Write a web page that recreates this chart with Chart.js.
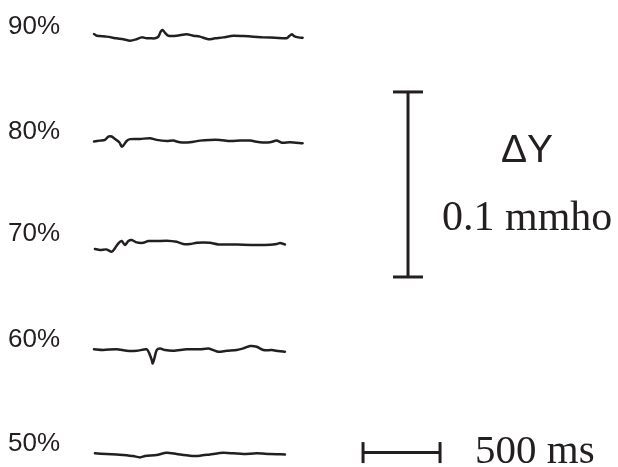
<!DOCTYPE html>
<html><head><meta charset="utf-8">
<script src="https://cdn.jsdelivr.net/npm/chart.js@4.4.1/dist/chart.umd.min.js"></script>
<style>html,body{margin:0;padding:0;background:#fff;overflow:hidden}canvas{display:block}</style>
</head><body><canvas id="c" width="618" height="467"></canvas>
<script>
// Trace labels (relative humidity levels)
const levelLabels = ['90%', '80%', '70%', '60%', '50%'];

// Time (ms) and admittance change (µmho) for each trace
const t90 = [0,18,82,147,190,234,277,310,342,364,396,418,433,446,461,483,537,602,645,688,742,786,840,905,970,1035,1099,1175,1251,1268,1284,1299,1327,1355];
const y90 = [1.6,0.7,0.2,-0.7,-1.2,-2.0,-1.2,-0.2,-0.7,-0.7,-0.7,0.2,2.9,3.8,2.3,0.7,0.7,1.5,0.7,0.2,-1.2,-0.7,-0.2,0.7,0.5,0.2,-0.2,-0.4,-0.7,0.5,1.5,0.5,-0.2,-0.4];

const t80 = [0,39,71,93,115,136,164,180,190,212,234,299,364,407,472,515,558,623,688,753,818,883,948,1013,1078,1143,1186,1219,1273,1355];
const y80 = [0.2,0.7,1.1,2.9,2.9,1.6,-0.2,-2.5,-2.0,0.5,1.5,1.6,2.0,1.1,0.5,0.7,-0.2,-0.2,0.7,1.1,1.1,0.5,0.7,0.7,-0.2,-0.2,0.7,-0.4,-0.2,-0.7];

const t70 = [6,39,82,115,136,158,180,201,223,245,277,320,353,407,472,537,580,623,667,710,753,807,883,970,1057,1143,1186,1208,1240];
const y70 = [-2.7,-3.2,-2.9,-4.2,-2.3,0.4,1.6,-0.5,1.6,2.2,0.9,0.7,1.6,1.6,1.8,1.2,0,0,0.7,0.9,0.7,-0.2,-0.2,-0.4,-0.5,-0.4,0,0.5,-0.2];

const t60 = [0,60,147,212,277,342,359,375,381,392,407,429,461,515,602,688,742,775,807,862,927,970,1013,1057,1100,1154,1197,1240];
const y60 = [0.4,0,0.5,-0.4,-0.4,0.4,-1.8,-5.4,-7.2,-4.5,0,0.9,0,-0.4,0.4,0.4,0.9,0,-0.9,-0.4,0,0.9,2.2,1.8,0,0,-0.5,-0.9];

const t50 = [6,82,147,190,255,299,331,407,472,537,623,688,753,840,905,970,1057,1143,1240];
const y50 = [0.4,0,-0.2,-0.5,-1.1,-1.8,-1.1,-0.5,0.7,0,-0.9,-0.9,-0.2,0.7,0.4,0,0.4,0,-0.2];

// Scale bars
const scaleBarValueY = 100;   // µmho = 0.1 mmho
const scaleBarValueX = 500;   // ms
const scaleBarTextY = ['ΔY', '0.1 mmho'];
const scaleBarTextX = '500 ms';

// ---- layout (display offsets, not data) ----
const traceTimes = [t90, t80, t70, t60, t50];
const traceValues = [y90, y80, y70, y60, y50];
const traceOffset = [232.4, 175.7, 120.5, 63.2, 7.0];
const vBarAt = {x: 2039, y: 102.7};
const hBarAt = {x: 1747, y: 7.8};
const ink = '#231f20';

const datasets = traceTimes.map((tt, i) => ({
  label: levelLabels[i],
  data: tt.map((x, j) => ({x, y: traceValues[i][j] + traceOffset[i]})),
  borderColor: ink, borderWidth: 2.5, pointRadius: 0, tension: 0.25,
  borderJoinStyle: 'round', borderCapStyle: 'round', fill: false
}));
datasets.push({
  label: 'vbar',
  data: [{x: vBarAt.x, y: vBarAt.y}, {x: vBarAt.x, y: vBarAt.y + scaleBarValueY}],
  borderColor: ink, borderWidth: 3, pointStyle: 'line', pointRadius: 15,
  pointBorderWidth: 3, pointBorderColor: ink, pointRotation: 0, tension: 0
});
datasets.push({
  label: 'hbar',
  data: [{x: hBarAt.x, y: hBarAt.y}, {x: hBarAt.x + scaleBarValueX, y: hBarAt.y}],
  borderColor: ink, borderWidth: 3, pointStyle: 'line', pointRadius: 10.5,
  pointBorderWidth: 3, pointBorderColor: ink, pointRotation: 90, tension: 0
});

const textPlugin = {
  id: 'texts',
  afterDraw(chart) {
    const {ctx, scales: {x, y}} = chart;
    ctx.save();
    ctx.fillStyle = ink;
    ctx.font = '26px "Liberation Sans", Arial, sans-serif';
    ctx.textAlign = 'left'; ctx.textBaseline = 'middle';
    levelLabels.forEach((lab, i) => {
      ctx.fillText(lab, 8, y.getPixelForValue(traceOffset[i]) - 10);
    });
    const vx = x.getPixelForValue(vBarAt.x);
    const vyMid = y.getPixelForValue(vBarAt.y + scaleBarValueY / 2);
    ctx.textAlign = 'center'; ctx.textBaseline = 'alphabetic';
    ctx.font = '39px "Liberation Sans", Arial, sans-serif';
    ctx.fillText(scaleBarTextY[0], vx + 119, vyMid - 22.5);
    ctx.font = '42px "Liberation Serif", "Times New Roman", serif';
    ctx.textAlign = 'left';
    ctx.fillText(scaleBarTextY[1], vx + 34, vyMid + 45.5);
    const hx = x.getPixelForValue(hBarAt.x + scaleBarValueX);
    const hy = y.getPixelForValue(hBarAt.y);
    ctx.font = '41px "Liberation Serif", "Times New Roman", serif';
    ctx.fillText(scaleBarTextX, hx + 35, hy + 10.5);
    ctx.restore();
  }
};

new Chart(document.getElementById('c'), {
  type: 'line',
  data: {datasets},
  options: {
    responsive: false, animation: false, devicePixelRatio: 1,
    layout: {padding: 0, autoPadding: false},
    plugins: {legend: {display: false}, tooltip: {enabled: false}},
    elements: {line: {clip: false}},
    scales: {
      x: {type: 'linear', min: -610.4, max: 3402.6, display: false},
      y: {type: 'linear', min: 0, max: 252.4, display: false}
    }
  },
  plugins: [textPlugin]
});
</script></body></html>
